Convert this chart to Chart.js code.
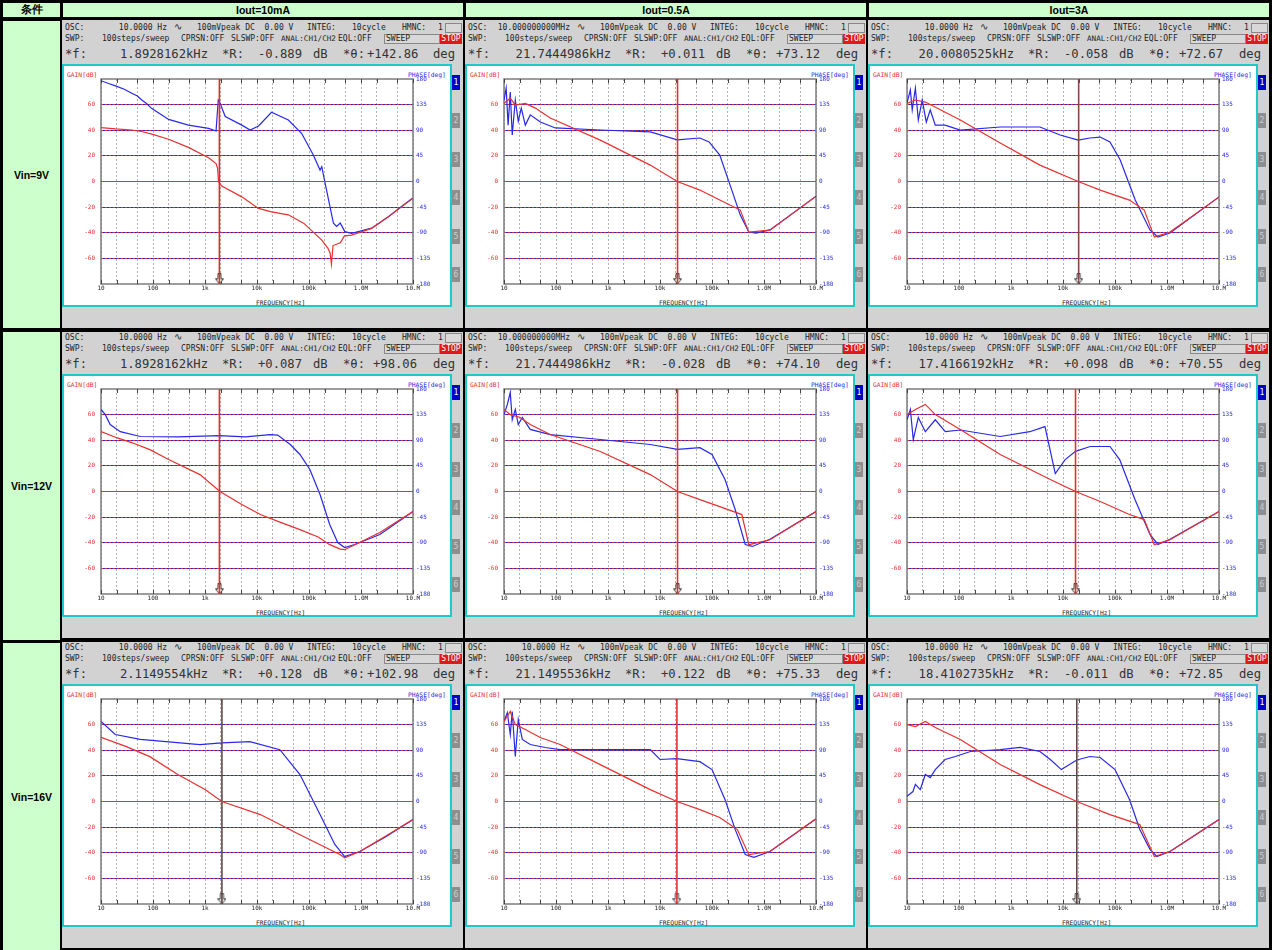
<!DOCTYPE html>
<html>
<head>
<meta charset="utf-8">
<script src="https://cdn.jsdelivr.net/npm/chart.js@4.4.1/dist/chart.umd.min.js"></script>
<style>
  body { margin: 0; width: 1272px; height: 950px; background: #000; position: relative; overflow: hidden;
         font-family: "DejaVu Sans Mono", monospace; }
  .hd { position: absolute; background: #ccffcc; color: #000; display: flex; align-items: center; justify-content: center;
        font: bold 10.5px "Liberation Sans", Arial, sans-serif; }
  .cell { position: absolute; width: 401px; height: 308px; overflow: hidden; }
  .bg { position: absolute; left: 0; right: 0; bottom: 0; background: #d2d2d2; }
  .t { position: absolute; white-space: pre; color: #222; font-size: 8px; line-height: 10px; }
  .big { font-size: 12.2px; line-height: 14px; color: #333; }
  .box { position: absolute; left: 0; top: 44px; width: 390px; height: 243px; border: 2px solid #20c8c8;
         box-sizing: border-box; background: #fff; }
  .box canvas { position: absolute; left: 0; top: 0; }
  .lbl { position: absolute; white-space: pre; font-size: 6.3px; line-height: 7px; }
  .tab { position: absolute; left: 390px; width: 8px; height: 15px; background: #8e8e8e; color: #cfcfcf;
         font-size: 8px; line-height: 15px; text-align: center; }
  .tab.on { background: #0000c8; color: #fff; }
  .btn { position: absolute; box-sizing: border-box; border: 1px solid #888; background: #d8d8d8; }
</style>
</head>
<body>
<script>
// column / row headings
const COLS = ['Iout=10mA', 'Iout=0.5A', 'Iout=3A'];
const ROWS = ['Vin=9V', 'Vin=12V', 'Vin=16V'];

// marker readouts per cell [row][col]
const OSC_TXT = [
  ['10.0000 Hz', '10.000000000MHz', '10.0000 Hz'],
  ['10.0000 Hz', '10.000000000MHz', '10.0000 Hz'],
  ['10.0000 Hz', '10.0000 Hz', '10.0000 Hz']
];
const MARK_F = [
  [1892.8162, 21744.4986, 20008.0525],
  [1892.8162, 21744.4986, 17416.6192],
  [2114.9554, 21149.5536, 18410.2735]
];
const MARK_F_TXT = [
  ['1.8928162kHz', '21.7444986kHz', '20.0080525kHz'],
  ['1.8928162kHz', '21.7444986kHz', '17.4166192kHz'],
  ['2.1149554kHz', '21.1495536kHz', '18.4102735kHz']
];
const MARK_R = [
  ['-0.889', '+0.011', '-0.058'],
  ['+0.087', '-0.028', '+0.098'],
  ['+0.128', '+0.122', '-0.011']
];
const MARK_TH = [
  ['+142.86', '+73.12', '+72.67'],
  ['+98.06', '+74.10', '+70.55'],
  ['+102.98', '+75.33', '+72.85']
];
const CURSOR_COLOR = [
  ['#e82828', '#e03030', '#804848'],
  ['#e03030', '#e03030', '#e03030'],
  ['#604848', '#e03030', '#604848']
];

// axis ticks
const FREQ_TICKS = [10, 20, 50, 100, 200, 500, 1e3, 2e3, 5e3, 1e4, 2e4, 5e4, 1e5, 2e5, 5e5, 1e6, 2e6, 5e6, 1e7];
const FREQ_LABELS = { 10: '10', 100: '100', 1000: '1k', 10000: '10k', 100000: '100k', 1000000: '1.0M', 10000000: '10.M' };
const GAIN_TICKS = [-80, -60, -40, -20, 0, 20, 40, 60, 80];
const PHASE_TICKS = [-180, -135, -90, -45, 0, 45, 90, 135, 180];

// measured curves: [Hz, dB] and [Hz, deg]
const gain_9V_10mA = [[10,42],[19,41],[39,40.2],[60,39],[95,37],[200,33],[480,26.6],[1170,18.5],[1630,14],[1750,10],[1820,-0.2],[2100,-3.6],[5100,-12],[10700,-21],[19000,-23.7],[40000,-26],[80000,-32.7],[176000,-45.8],[230000,-52],[255000,-56],[270000,-64.5],[290000,-50],[400000,-47.8],[480000,-42.4],[660000,-41.9],[1.6e6,-36.6],[3.35e6,-27.6],[6e6,-19.8],[9.8e6,-13.2]];
const phase_9V_10mA = [[10,177],[14,172],[19,168],[28,162],[39,155],[50,150],[61,143],[75,137],[95,128],[200,109],[480,99],[1170,93.4],[1630,88.7],[1800,143],[1900,140],[2450,114],[5100,99],[7400,90.4],[10700,97.5],[19000,121.5],[40000,108],[72000,84.6],[121000,46.5],[163000,20],[176000,26],[204000,-3],[295000,-73.4],[340000,-79],[398000,-73],[490000,-88],[660000,-91],[1.6e6,-82],[3.35e6,-62],[6e6,-44],[9.8e6,-29.5]];

const gain_9V_05A = [[10,61],[13.2,65],[16.5,59.7],[25.7,61],[40,57.3],[77.5,49.5],[710,32.3],[6500,12.8],[21500,0],[58500,-6.7],[141000,-14.5],[350000,-22.3],[510000,-39.5],[1.3e6,-38],[9.6e6,-12.2],[1e7,-12]];
const phase_9V_05A = [[10,143],[11,164],[12,99],[13.2,157],[14.4,81.6],[16.5,143],[18.8,106],[21.5,129],[25.7,99],[32,117],[50,104.5],[97,94],[710,90.4],[6500,87],[21500,73.1],[58500,76.4],[88000,69.4],[141000,46.5],[222000,-6],[350000,-59],[510000,-88.7],[700000,-90.5],[1.3e6,-85],[9.6e6,-27],[1e7,-26]];

const gain_9V_3A = [[10,61],[14.5,63.6],[22.5,62],[43.7,56],[106,48],[620,30],[3600,12.8],[19600,0],[52000,-6.7],[189000,-14.5],[365000,-22.3],[570000,-43.4],[1.14e6,-39.5],[1e7,-12.2]];
const phase_9V_3A = [[10,138],[11.6,160.7],[12.6,125.6],[14.5,164],[16.5,108],[19.6,143],[23.5,104.5],[28,125.6],[35,99],[54,99],[106,90.4],[620,95.7],[3600,95.7],[8800,81.6],[19600,72.7],[33000,76.4],[52000,78],[80000,69.4],[126000,37.7],[245000,-32.5],[470000,-85],[670000,-97.5],[1.14e6,-90.5],[1e7,-27]];

const gain_12V_10mA = [[10,46.8],[20,42],[40,38],[87,32.7],[200,25],[800,13.2],[1940,0],[5000,-10],[11600,-18],[30000,-24.5],[67000,-29.8],[150000,-35.5],[250000,-41.5],[400000,-45],[485000,-45.4],[760000,-41.5],[2.3e6,-32],[1e7,-15.7]];
const phase_12V_10mA = [[10,144],[12.1,135],[15,117.6],[23.5,105],[57,96.6],[300,96],[1890,98],[6000,96],[17800,100],[25000,99],[43600,82.5],[67000,65],[104000,38.6],[163000,-5.3],[250000,-58],[357000,-89.6],[485000,-98.4],[760000,-93],[2.3e6,-75.5],[1e7,-35]];

const gain_12V_05A = [[10,64],[13.2,60],[20,58],[31.9,52.3],[77.5,44.5],[710,31.2],[6500,13.2],[21700,0],[58500,-6.3],[141000,-11.8],[375000,-18],[510000,-41.5],[1.3e6,-37.7],[1e7,-15.7]];
const phase_12V_05A = [[10,135],[11.6,152.8],[13.2,174],[14.4,126],[16.5,144],[18.8,117.6],[22.5,130],[31.9,109],[77.5,100],[710,91.3],[6500,82.5],[21700,74.1],[58500,77],[100000,65],[178000,21],[279000,-31.6],[436000,-93],[595000,-96.5],[1.3e6,-84],[1e7,-35]];

const gain_12V_3A = [[10,60],[14.5,64],[22.5,68],[35,60],[106,48.4],[620,28.8],[5700,9.3],[17400,0],[52000,-7.8],[189000,-18],[365000,-21.9],[570000,-41.5],[1.14e6,-37.7],[1e7,-15.7]];
const phase_12V_3A = [[10,126],[11.6,144],[13.2,91],[16.5,130],[22.5,105],[35,126],[54.5,105],[106,108],[620,96.6],[2300,105],[4500,114],[7100,31.6],[11000,56],[17400,70.5],[33300,79],[80000,79],[123000,56],[242000,-14],[470000,-75.5],[670000,-93],[1.14e6,-84],[1e7,-35]];

const gain_16V_10mA = [[10,50],[30,43],[87,35],[300,21],[1000,9.3],[2110,0],[11600,-10.2],[67000,-25.9],[400000,-41.5],[485000,-43.9],[950000,-39],[3e6,-27],[1e7,-14]];
const phase_16V_10mA = [[10,140.5],[18.8,117.6],[57,109],[800,100],[2110,103],[7300,105],[27500,91],[67000,47.4],[163000,-23],[314000,-75.5],[485000,-96.6],[950000,-87.8],[3e6,-62],[1e7,-31.6]];

const gain_16V_05A = [[10,62.4],[13.2,70.3],[16.5,60],[25.7,56.2],[49.7,49.9],[120,44.5],[710,28.8],[6500,9.3],[21100,0],[58500,-6.3],[141000,-12.5],[307000,-21.9],[510000,-41.5],[1.3e6,-39],[9.6e6,-14],[1e7,-14]];
const phase_16V_05A = [[10,140.5],[11.6,156],[13.2,117.6],[14.4,158],[16.5,79],[18.8,144],[22.5,109],[32,100],[62,94.8],[120,91],[6500,91],[10000,73.8],[21100,75.3],[58500,70],[100000,56],[178000,3.5],[279000,-49],[436000,-93],[640000,-98],[1.3e6,-87.8],[9.6e6,-31.6],[1e7,-31]];

const gain_16V_3A = [[10,60],[14.5,58.5],[22.5,62.4],[35,57.7],[106,48.4],[620,28.8],[3600,13.2],[18400,0],[80000,-10.2],[300000,-18],[570000,-43],[1.14e6,-39],[1e7,-14]];
const phase_16V_3A = [[10,9],[13,17.5],[14.5,30],[18,21],[22.5,47.4],[28,42],[35,56],[54,73.7],[85,79],[166,87.8],[620,91],[1500,95],[3600,87.8],[5700,73.7],[9300,56],[18400,72.85],[33000,79],[52000,77.3],[100000,56],[190000,3.5],[300000,-49],[470000,-84],[640000,-96.6],[1.14e6,-87.8],[1e7,-31.6]];

const GAIN = [
  [gain_9V_10mA, gain_9V_05A, gain_9V_3A],
  [gain_12V_10mA, gain_12V_05A, gain_12V_3A],
  [gain_16V_10mA, gain_16V_05A, gain_16V_3A]
];
const PHASE = [
  [phase_9V_10mA, phase_9V_05A, phase_9V_3A],
  [phase_12V_10mA, phase_12V_05A, phase_12V_3A],
  [phase_16V_10mA, phase_16V_05A, phase_16V_3A]
];

const RED = 'rgb(232,48,48)';
const BLUE = 'rgb(40,40,232)';
const MONO = '"DejaVu Sans Mono", monospace';

function el(parent, cls, css, txt) {
  const d = document.createElement('div');
  d.className = cls;
  Object.assign(d.style, css || {});
  if (txt !== undefined) d.textContent = txt;
  parent.appendChild(d);
  return d;
}

// table headings
el(document.body, 'hd', { left: '3px', top: '3px', width: '57px', height: '14px' }, '条件');
COLS.forEach((c, i) => el(document.body, 'hd', { left: (63 + 403 * i) + 'px', top: '3px', width: '400px', height: '14px' }, c));
ROWS.forEach((r, i) => {
  const top = i === 0 ? 21 : (i === 1 ? 332 : 643);
  const bot = i === 0 ? 328 : (i === 1 ? 640 : 950);
  el(document.body, 'hd', { left: '3px', top: top + 'px', width: '57px', height: (bot - top) + 'px' }, r);
});

// arrow marker for the cursor
function arrowImg(color) {
  const c = document.createElement('canvas');
  c.width = 9; c.height = 11;
  const x = c.getContext('2d');
  x.fillStyle = '#fff'; x.strokeStyle = color; x.lineWidth = 1;
  x.beginPath();
  x.moveTo(3, 0.5); x.lineTo(6, 0.5); x.lineTo(6, 5.5); x.lineTo(8.5, 5.5); x.lineTo(4.5, 10.5);
  x.lineTo(0.5, 5.5); x.lineTo(3, 5.5); x.closePath();
  x.fill(); x.stroke();
  return c;
}

// plot frame and small ticks along top and bottom
const framePlugin = {
  id: 'frame',
  beforeDatasetsDraw(chart) {
    const { ctx, chartArea: a } = chart;
    const sx = chart.scales.x;
    ctx.save();
    ctx.strokeStyle = '#7c7c7c';
    ctx.lineWidth = 1.5;
    ctx.strokeRect(a.left, a.top, a.right - a.left, a.bottom - a.top);
    ctx.strokeStyle = '#444';
    ctx.lineWidth = 1;
    FREQ_TICKS.forEach(v => {
      const px = Math.round(sx.getPixelForValue(v)) + 0.5;
      ctx.beginPath();
      ctx.moveTo(px, a.bottom); ctx.lineTo(px, a.bottom - 4);
      ctx.moveTo(px, a.top); ctx.lineTo(px, a.top + 4);
      ctx.stroke();
    });
    ctx.restore();
  }
};

function pts(arr) { return arr.map(p => ({ x: p[0], y: p[1] })); }

function makeCell(r, c) {
  const x0 = 62 + 403 * c, y0 = 20 + 310 * r;
  const cell = el(document.body, 'cell', { left: x0 + 'px', top: y0 + 'px' });
  el(cell, 'bg', { top: (r === 0 ? 0 : 2) + 'px' });

  // header lines
  el(cell, 't', { left: '3px', top: '3px' }, 'OSC:');
  el(cell, 't', { right: (401 - 105) + 'px', top: '3px' }, OSC_TXT[r][c]);
  el(cell, 't', { left: '112px', top: '2px', fontSize: '10px' }, '∿');
  el(cell, 't', { left: '135px', top: '3px' }, '100mVpeak DC  0.00 V');
  el(cell, 't', { left: '245px', top: '3px' }, 'INTEG:');
  el(cell, 't', { left: '290px', top: '3px' }, '10cycle');
  el(cell, 't', { left: '340px', top: '3px' }, 'HMNC:');
  el(cell, 't', { left: '376px', top: '3px' }, '1');
  el(cell, 'btn', { left: '383px', top: '3px', width: '17px', height: '10px' });

  el(cell, 't', { left: '3px', top: '14px' }, 'SWP:');
  el(cell, 't', { left: '40px', top: '14px' }, '100steps/sweep');
  el(cell, 't', { left: '119px', top: '14px' }, 'CPRSN:OFF');
  el(cell, 't', { left: '169px', top: '14px' }, 'SLSWP:OFF');
  el(cell, 't', { left: '219px', top: '14px', fontSize: '7.6px' }, 'ANAL:CH1/CH2');
  el(cell, 't', { left: '276px', top: '14px' }, 'EQL:OFF');
  el(cell, 'btn t', { left: '322px', top: '14px', width: '56px', height: '10px', lineHeight: '8px', paddingLeft: '1px' }, 'SWEEP');
  el(cell, 't', { left: '378px', top: '14px', width: '22px', height: '10px', background: '#e01818', color: '#fff', lineHeight: '10px', textAlign: 'center' }, 'STOP');

  el(cell, 't big', { left: '3px', top: '27px' }, '*f:');
  el(cell, 't big', { right: (401 - 146) + 'px', top: '27px' }, MARK_F_TXT[r][c]);
  el(cell, 't big', { left: '160px', top: '27px' }, '*R:');
  el(cell, 't big', { left: '196px', top: '27px' }, MARK_R[r][c]);
  el(cell, 't big', { left: '251px', top: '27px' }, 'dB');
  el(cell, 't big', { left: '281px', top: '27px' }, '*θ:');
  el(cell, 't big', { left: (MARK_TH[r][c].length > 6 ? 305 : 311) + 'px', top: '27px' }, MARK_TH[r][c]);
  el(cell, 't big', { left: '371px', top: '27px' }, 'deg');

  // tabs
  for (let i = 0; i < 6; i++) {
    el(cell, 'tab' + (i === 0 ? ' on' : ''), { top: (55 + i * 38.4) + 'px' }, String(i + 1));
  }

  // plot box
  const box = el(cell, 'box');
  el(box, 'lbl', { left: '3px', top: '5px', color: RED }, 'GAIN[dB]');
  el(box, 'lbl', { left: '344px', top: '5px', color: BLUE }, 'PHASE[deg]');
  el(box, 'lbl', { left: '192px', top: '233px', color: '#222' }, 'FREQUENCY[Hz]');
  const cv = document.createElement('canvas');
  cv.width = 386; cv.height = 239;
  box.appendChild(cv);

  const f = MARK_F[r][c];
  const cc = CURSOR_COLOR[r][c];
  new Chart(cv, {
    type: 'line',
    data: {
      datasets: [
        { data: [{ x: 10, y: 0 }, { x: 1e7, y: 0 }], yAxisID: 'g', borderColor: RED, borderWidth: 1 },
        { data: [{ x: f, y: -80 }, { x: f, y: 80 }], yAxisID: 'g', borderColor: cc, borderWidth: 1.6 },
        { data: pts(GAIN[r][c]), yAxisID: 'g', borderColor: RED, borderWidth: 1.2 },
        { data: pts(PHASE[r][c]), yAxisID: 'p', borderColor: BLUE, borderWidth: 1.2 },
        { data: [{ x: f, y: -76 }], yAxisID: 'g', showLine: false, pointRadius: 5, pointStyle: arrowImg('#333') }
      ]
    },
    options: {
      responsive: false,
      animation: false,
      events: [],
      layout: { padding: { top: 13, left: 0, right: 0, bottom: 0 } },
      elements: { point: { radius: 0 }, line: { tension: 0 } },
      plugins: { legend: { display: false }, tooltip: { enabled: false } },
      scales: {
        x: {
          type: 'logarithmic', min: 10, max: 1e7,
          afterBuildTicks: s => { s.ticks = FREQ_TICKS.map(v => ({ value: v })); },
          afterFit: s => { s.height = 21; },
          ticks: { autoSkip: false, maxRotation: 0, padding: 1, color: '#222', font: { family: MONO, size: 6 },
                   callback: v => FREQ_LABELS[v] || '' },
          grid: { color: '#b0b0b0', lineWidth: 1, drawTicks: false },
          border: { display: false, dash: [2, 2] }
        },
        g: {
          position: 'left', min: -80, max: 80,
          afterBuildTicks: s => { s.ticks = GAIN_TICKS.map(v => ({ value: v })); },
          afterFit: s => { s.width = 37; },
          ticks: { padding: 6, color: RED, font: { family: MONO, size: 6 },
                   callback: v => (Math.abs(v) === 80 ? '' : String(v)) },
          grid: { drawTicks: false, lineWidth: 1,
                  color: ctx => (ctx.tick && (ctx.tick.value === 0 || Math.abs(ctx.tick.value) === 80)) ? 'rgba(0,0,0,0)' : RED },
          border: { display: false, dash: [2, 2] }
        },
        p: {
          position: 'right', min: -180, max: 180,
          afterBuildTicks: s => { s.ticks = PHASE_TICKS.map(v => ({ value: v })); },
          afterFit: s => { s.width = 37; },
          ticks: { padding: 3, color: BLUE, font: { family: MONO, size: 6 } },
          grid: { drawTicks: false, lineWidth: 1,
                  color: ctx => (ctx.tick && (ctx.tick.value === 0 || Math.abs(ctx.tick.value) === 180)) ? 'rgba(0,0,0,0)' : BLUE },
          border: { display: false, dash: [2, 2], dashOffset: 2 }
        }
      }
    },
    plugins: [framePlugin]
  });
}

for (let r = 0; r < 3; r++) for (let c = 0; c < 3; c++) makeCell(r, c);
</script>
</body>
</html>
